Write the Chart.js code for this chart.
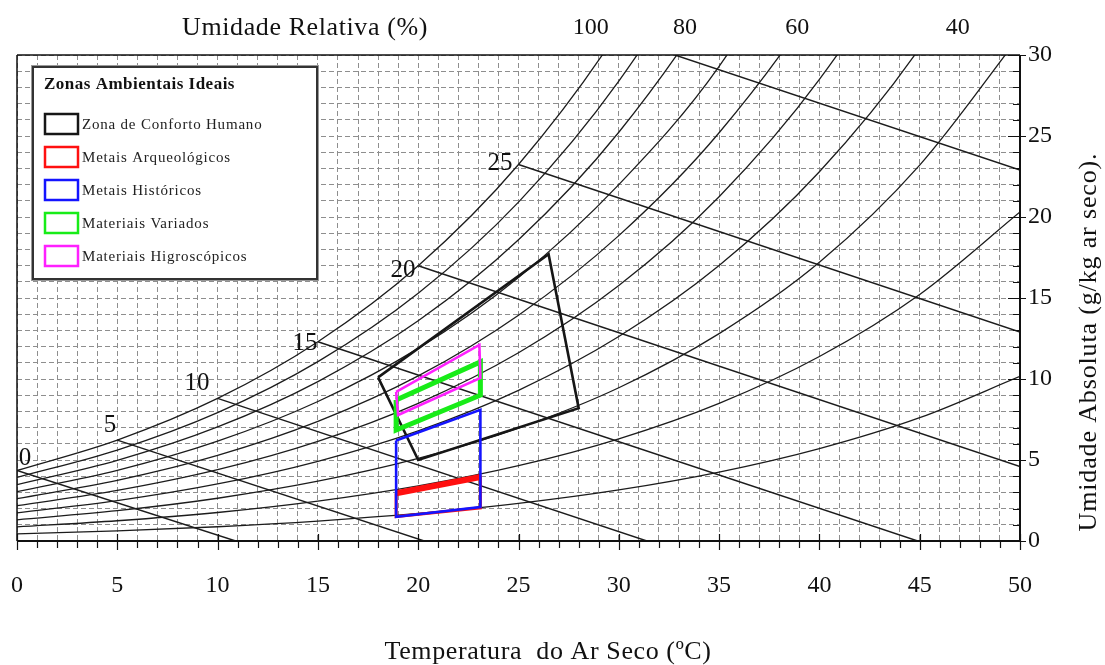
<!DOCTYPE html>
<html>
<head>
<meta charset="utf-8">
<script src="https://cdn.jsdelivr.net/npm/chart.js@4.4.0/dist/chart.umd.min.js"></script>
<style>
  html, body { margin: 0; padding: 0; background: #fff; }
</style>
</head>
<body>
<canvas id="psy" width="1105" height="665"></canvas>
<script>
// dry bulb temperatures (°C) where the RH curves were read
const tempC = [0, 5, 10, 15, 20, 25, 30, 35, 40, 45, 50];

// absolute humidity (g/kg) of each RH curve at tempC (last point is above the frame and gets clipped)
const rh100 = [4.35, 6.23, 8.80, 12.30, 16.99, 23.24, 31.54, 42.50];
const rh90 = [3.92, 5.61, 7.92, 11.07, 15.29, 20.92, 28.39, 38.25, 51.27];
const rh80 = [3.48, 4.98, 7.04, 9.84, 13.59, 18.59, 25.23, 34.00, 45.58];
const rh70 = [3.05, 4.36, 6.16, 8.61, 11.89, 16.27, 22.0, 29.3, 39.6, 53.0];
const rh60 = [2.61, 3.74, 5.28, 7.38, 10.19, 13.94, 18.85, 25.2, 33.6, 45.2];
const rh50 = [2.18, 3.12, 4.40, 6.15, 8.50, 11.62, 15.77, 21.25, 28.49, 38.06, 50.78];
const rh40 = [1.74, 2.49, 3.52, 4.92, 6.80, 9.30, 12.62, 17.00, 22.79, 30.44, 40.62];
const rh30 = [1.31, 1.87, 2.64, 3.69, 5.10, 6.97, 9.46, 12.8, 17.2, 23.2, 31.2];
const rh20 = [0.87, 1.25, 1.76, 2.46, 3.40, 4.65, 6.31, 8.50, 11.39, 15.22, 20.31];
const rh10 = [0.44, 0.62, 0.88, 1.23, 1.70, 2.32, 3.15, 4.25, 5.70, 7.61, 10.16];
const rhCurves = [rh100, rh90, rh80, rh70, rh60, rh50, rh40, rh30, rh20, rh10];

// RH labels above the frame
const rhTopLabels = ['100', '80', '60', '40'];
const rhTopLabelT = [28.6, 33.3, 38.9, 46.9];

// wet bulb lines (start on saturation, end on frame)
const wbLabels = ['0', '5', '10', '15', '20', '25', ''];
const wbStartT = [0, 5, 10, 15, 20, 25, 32.8];
const wbStartW = [4.35, 6.23, 8.80, 12.30, 16.99, 23.24, 30];
const wbEndT = [10.9, 20.3, 31.4, 44.9, 50, 50, 50];
const wbEndW = [0, 0, 0, 0, 4.6, 12.9, 22.9];
const wbLabelT = [0.4, 4.64, 8.97, 14.36, 19.24, 24.08];
const wbLabelW = [5.1, 7.16, 9.75, 12.22, 16.73, 23.33];

// ideal zones
const zoneNames = ['Zona de Conforto Humano', 'Metais Arqueológicos', 'Metais Históricos', 'Materiais Variados', 'Materiais Higroscópicos'];
const zoneColors = ['#161616', '#ff1010', '#1414ff', '#18ec18', '#ff20ff'];
const comfortT = [18, 26.5, 28, 20, 18];
const comfortW = [10.1, 17.7, 8.2, 5.0, 10.1];
const archT = [18.9, 23.1, 23.1, 18.9, 18.9];
const archW = [2.95, 3.95, 2.05, 1.5, 2.95];
const histT = [18.9, 23.1, 23.1, 18.9, 18.9];
const histW = [6.2, 8.1, 2.1, 1.5, 6.2];
const variedT = [18.9, 23.1, 23.1, 18.9, 18.9];
const variedW = [8.7, 11.05, 9.0, 6.85, 8.7];
const hygroT = [18.9, 23.05, 23.1, 19.0, 18.9];
const hygroW = [9.2, 12.1, 10.06, 7.78, 9.2];

const xTickLabels = [0, 5, 10, 15, 20, 25, 30, 35, 40, 45, 50];
const yTickLabels = [0, 5, 10, 15, 20, 25, 30];

const serif = "'Liberation Serif', 'Times New Roman', serif";
Chart.defaults.font.family = serif;

function pts(xs, ys) {
    return ys.map((y, i) => ({ x: xs[i], y: y }));
}

let datasets = [];
rhCurves.forEach((c) => {
    datasets.push({
        data: pts(tempC, c), borderColor: '#1c1c1c', borderWidth: 1.3, showLine: true,
        pointRadius: 0, cubicInterpolationMode: 'monotone', capBezierPoints: false, order: 20
    });
});
for (let i = 0; i < wbStartT.length; i++) {
    datasets.push({
        data: [{ x: wbStartT[i], y: wbStartW[i] }, { x: wbEndT[i], y: wbEndW[i] }],
        borderColor: '#1c1c1c', borderWidth: 1.4, showLine: true, pointRadius: 0, order: 20
    });
}

const zoneT = [comfortT, archT, histT, variedT, hygroT];
const zoneW = [comfortW, archW, histW, variedW, hygroW];
const zoneWidth = [2.6, 3, 2.6, 5, 2.6];
const zoneOrder = [6, 5, 3, 4, 2];
for (let i = 0; i < zoneNames.length; i++) {
    datasets.push({
        label: zoneNames[i], data: pts(zoneT[i], zoneW[i]), borderColor: zoneColors[i],
        borderWidth: zoneWidth[i], showLine: true, pointRadius: 0, borderJoinStyle: 'miter', order: zoneOrder[i]
    });
}
// thick upper edge of the archaeological metals zone
datasets.push({
    data: pts(archT.slice(0, 2), archW.slice(0, 2)), borderColor: zoneColors[1],
    borderWidth: 6, showLine: true, pointRadius: 0, order: 5
});

function spaced(ctx, px) {
    if ('letterSpacing' in ctx) ctx.letterSpacing = px + 'px';
}

const framePlugin = {
    id: 'frame',
    afterDatasetsDraw(chart) {
        const ctx = chart.ctx;
        const xs = chart.scales.x, ys = chart.scales.y;
        const l = xs.getPixelForValue(0), r = xs.getPixelForValue(50);
        const t = ys.getPixelForValue(30), b = ys.getPixelForValue(0);
        ctx.save();
        ctx.strokeStyle = '#111';
        ctx.lineWidth = 1.5;
        ctx.beginPath();
        ctx.moveTo(l, t); ctx.lineTo(r, t);
        ctx.moveTo(l, t); ctx.lineTo(l, b);
        ctx.stroke();
        ctx.lineWidth = 2;
        ctx.beginPath();
        ctx.moveTo(l, b); ctx.lineTo(r + 1, b);
        ctx.moveTo(r, t); ctx.lineTo(r, b + 1);
        ctx.stroke();
        // tick marks
        ctx.lineWidth = 1.2;
        ctx.beginPath();
        for (let v = 0; v <= 50; v++) {
            const px = Math.round(xs.getPixelForValue(v)) + 0.5;
            if (v % 5 === 0) { ctx.moveTo(px, b - 7); ctx.lineTo(px, b + 9); }
            else { ctx.moveTo(px, b); ctx.lineTo(px, b + 7); }
        }
        for (let v = 0; v <= 30; v++) {
            const py = Math.round(ys.getPixelForValue(v)) + 0.5;
            if (v % 5 === 0) { ctx.moveTo(r - 12, py); ctx.lineTo(r + 6, py); }
            else { ctx.moveTo(r - 7, py); ctx.lineTo(r, py); }
        }
        ctx.stroke();

        // wet bulb labels
        ctx.fillStyle = '#111';
        ctx.font = '25px ' + serif;
        ctx.textAlign = 'center';
        ctx.textBaseline = 'middle';
        for (let i = 0; i < wbLabelT.length; i++) {
            ctx.fillText(wbLabels[i], xs.getPixelForValue(wbLabelT[i]), ys.getPixelForValue(wbLabelW[i]));
        }
        ctx.restore();
    },
    afterDraw(chart) {
        const ctx = chart.ctx;
        const xs = chart.scales.x;
        ctx.save();
        ctx.fillStyle = '#111';
        ctx.textAlign = 'center';
        ctx.textBaseline = 'middle';
        ctx.font = '24px ' + serif;
        rhTopLabels.forEach((s, i) => ctx.fillText(s, xs.getPixelForValue(rhTopLabelT[i]), 28));
        ctx.font = '26px ' + serif;
        spaced(ctx, 0.6);
        ctx.fillText('Umidade Relativa (%)', 305, 28);
        ctx.fillText('Temperatura  do Ar Seco (ºC)', 548, 652);
        spaced(ctx, 0.85);
        ctx.save();
        ctx.translate(1089, 342);
        ctx.rotate(-Math.PI / 2);
        ctx.fillText('Umidade Absoluta (g/kg ar seco).', 0, 0);
        ctx.restore();

        // legend box
        const lx = 33, ly = 67, lw = 284, lh = 212;
        ctx.fillStyle = '#fff';
        ctx.fillRect(lx, ly, lw, lh);
        ctx.strokeStyle = '#999';
        ctx.lineWidth = 1;
        ctx.strokeRect(lx - 1.5, ly - 1.5, lw + 3, lh + 3);
        ctx.strokeStyle = '#333';
        ctx.lineWidth = 2;
        ctx.strokeRect(lx, ly, lw, lh);
        ctx.fillStyle = '#111';
        ctx.textAlign = 'left';
        ctx.font = 'bold 17px ' + serif;
        spaced(ctx, 0.5);
        ctx.fillText('Zonas Ambientais Ideais', 44, 85);
        ctx.font = '15px ' + serif;
        spaced(ctx, 0.8);
        for (let i = 0; i < zoneNames.length; i++) {
            const cy = 124 + i * 33;
            ctx.strokeStyle = zoneColors[i];
            ctx.lineWidth = 2.5;
            ctx.strokeRect(45, cy - 10, 33, 20);
            ctx.fillStyle = '#222';
            ctx.fillText(zoneNames[i], 82, cy + 1);
        }
        ctx.restore();
    }
};

const gridCommon = { color: '#8e8e8e', lineWidth: 1, drawTicks: false };
const borderCommon = { display: false, dash: [5, 3] };

new Chart(document.getElementById('psy'), {
    type: 'scatter',
    data: { datasets: datasets },
    options: {
        responsive: false,
        animation: false,
        layout: { autoPadding: false, padding: { left: 17, top: 55, right: 0, bottom: 0 } },
        plugins: { legend: { display: false }, tooltip: { enabled: false } },
        scales: {
            x: {
                type: 'linear', position: 'bottom', min: 0, max: 50,
                ticks: {
                    stepSize: 1, maxTicksLimit: 100, autoSkip: false, maxRotation: 0, padding: 30,
                    color: '#111', font: { family: serif, size: 24 },
                    callback: (v) => xTickLabels.includes(v) ? String(v) : ''
                },
                grid: gridCommon, border: borderCommon,
                afterFit: (s) => { s.height = 124; s.paddingLeft = 0; s.paddingRight = 0; }
            },
            y: {
                type: 'linear', position: 'right', min: 0, max: 30,
                ticks: {
                    stepSize: 1, maxTicksLimit: 100, autoSkip: false, padding: 8,
                    color: '#111', font: { family: serif, size: 24 },
                    callback: (v) => yTickLabels.includes(v) ? String(v) : ''
                },
                grid: gridCommon, border: borderCommon,
                afterFit: (s) => { s.width = 85; s.paddingTop = 0; s.paddingBottom = 0; }
            }
        }
    },
    plugins: [framePlugin]
});
</script>
</body>
</html>
